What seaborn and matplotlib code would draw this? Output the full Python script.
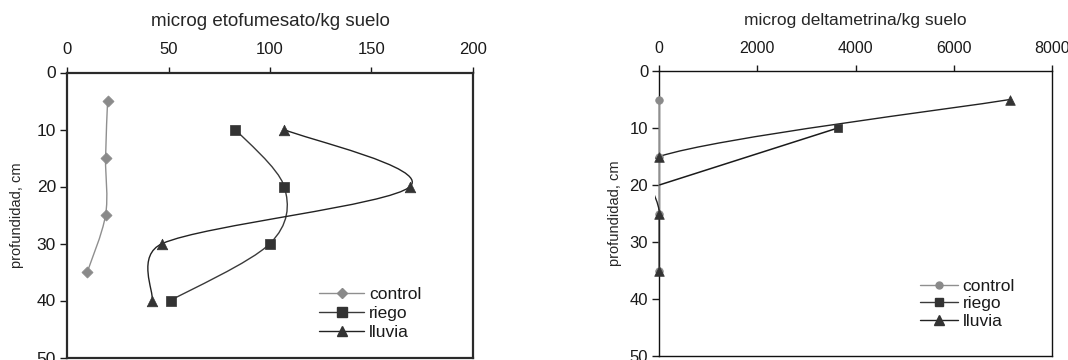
import numpy as np
import matplotlib
matplotlib.use("Agg")
import matplotlib.pyplot as plt
import seaborn as sns
import pandas as pd
from matplotlib.path import Path
from matplotlib.patches import PathPatch, Rectangle
from matplotlib.lines import Line2D

# ---------------- data ----------------
series_names = ["control", "riego", "lluvia"]

# left chart: etofumesato (microg/kg suelo) vs depth (cm)
etof_control_depth = [5, 15, 25, 35]
etof_control_val = [20, 19, 19, 10]
etof_riego_depth = [10, 20, 30, 40]
etof_riego_val = [83, 107, 100, 51]
etof_lluvia_depth = [10, 20, 30, 40]
etof_lluvia_val = [107, 169, 47, 42]

# right chart: deltametrina (microg/kg suelo) vs depth (cm)
delta_control_depth = [5, 15, 25, 35]
delta_control_val = [0, 0, 0, 0]
delta_riego_depth = [10, 20]
delta_riego_val = [3640, 0]
delta_lluvia_depth = [5, 15, 25, 35]
delta_lluvia_val = [7150, 0, 0, 0]

left_xticks = [0, 50, 100, 150, 200]
right_xticks = [0, 2000, 4000, 6000, 8000]
depth_ticks = [0, 10, 20, 30, 40, 50]

left_title = "microg etofumesato/kg suelo"
right_title = "microg deltametrina/kg suelo"
ylabel = "profundidad, cm"

# ---------------- style ----------------
sns.set_theme(style="white")
plt.rcParams["font.family"] = ["Liberation Sans", "DejaVu Sans"]
plt.rcParams["text.color"] = "#1a1a1a"

W, H = 1068, 360
fig = plt.figure(figsize=(W / 100, H / 100), dpi=100)
fig.patch.set_facecolor("white")


def smooth_path(ax, xs, ys, cap=0.5):
    """Excel-like smoothed line: cubic Bezier through the data points,
    computed in screen space, returned in data coordinates."""
    data = np.column_stack([xs, ys]).astype(float)
    pts = ax.transData.transform(data)
    n = len(pts)
    verts = [pts[0]]
    codes = [Path.MOVETO]

    def limit(arm, seg_len):
        L = np.hypot(*arm)
        m = cap * seg_len
        if L > m and L > 0:
            arm = arm * (m / L)
        return arm

    for i in range(n - 1):
        p0 = pts[i - 1] if i > 0 else pts[i]
        p1 = pts[i]
        p2 = pts[i + 1]
        p3 = pts[i + 2] if i + 2 < n else pts[i + 1]
        seg = np.hypot(*(p2 - p1))
        a1 = limit((p2 - p0) / 6.0, seg)
        a2 = limit((p3 - p1) / 6.0, seg)
        verts += [p1 + a1, p2 - a2, p2]
        codes += [Path.CURVE4] * 3
    verts = ax.transData.inverted().transform(np.array(verts))
    return Path(verts, codes)


def draw_series(ax, xs, ys, color, lw, marker, mcolor, msize, show_mask=None, z=3):
    patch = PathPatch(smooth_path(ax, xs, ys), facecolor="none", edgecolor=color,
                      lw=lw, zorder=z, transform=ax.transData)
    ax.add_patch(patch)
    clip = Rectangle((-0.012, -0.01), 1.024, 1.02, transform=ax.transAxes)
    patch.set_clip_path(clip)
    df = pd.DataFrame({"x": xs, "y": ys})
    if show_mask is not None:
        df = df[show_mask]
    sns.scatterplot(data=df, x="x", y="y", ax=ax, marker=marker, color=mcolor,
                    edgecolor=mcolor, linewidth=0.5, s=msize, zorder=z + 1,
                    clip_on=False, legend=False)


def setup_axes(ax, xlim, xticks):
    ax.set_xlim(*xlim)
    ax.set_ylim(50, 0)
    ax.set_xticks(xticks)
    ax.set_yticks(depth_ticks)


def style_axes(ax, title, title_size, title_pad, ylabel_pad, xtick_size, ytick_size,
               spine_lw, spine_color):
    ax.xaxis.tick_top()
    ax.xaxis.set_label_position("top")
    ax.set_xlabel(title, fontsize=title_size, labelpad=title_pad)
    ax.set_ylabel(ylabel, fontsize=10.5, labelpad=ylabel_pad)
    ax.tick_params(axis="x", direction="out", length=4, width=1, pad=7,
                   labelsize=xtick_size, colors="#1a1a1a", top=True, bottom=False)
    ax.tick_params(axis="y", direction="out", length=5, width=1, pad=3,
                   labelsize=ytick_size, colors="#1a1a1a", left=True)
    for s in ax.spines.values():
        s.set_linewidth(spine_lw)
        s.set_color(spine_color)
        s.set_zorder(2)
    ax.set_facecolor("white")
    ax.grid(False)


gray = "#8a8a8a"
dark = "#333333"

# ---------------- left chart ----------------
axL = fig.add_axes([67 / W, 1 - 357.5 / H, 406 / W, 285 / H])
setup_axes(axL, (0, 200), left_xticks)
draw_series(axL, etof_control_val, etof_control_depth, "#8f8f8f", 1.0, "D", gray, 32)
draw_series(axL, etof_riego_val, etof_riego_depth, "#3a3a3a", 1.0, "s", dark, 46)
draw_series(axL, etof_lluvia_val, etof_lluvia_depth, "#222222", 1.0, "^", dark, 58)
style_axes(axL, left_title, 13.5, 11.5, 9, 12, 12.5, 1.6, "#2a2a2a")

handlesL = [
    Line2D([], [], color="#8f8f8f", lw=1.0, marker="D", ms=5, mfc=gray, mec=gray),
    Line2D([], [], color="#3a3a3a", lw=1.0, marker="s", ms=6.5, mfc=dark, mec=dark),
    Line2D([], [], color="#222222", lw=1.0, marker="^", ms=7.5, mfc=dark, mec=dark),
]
axL.legend(handlesL, series_names, loc="upper left",
           bbox_to_anchor=(319 / W, 1 - 287 / H), bbox_transform=fig.transFigure,
           frameon=False, fontsize=12.5, handlelength=2.6, handletextpad=0.3,
           labelspacing=0.22, borderpad=0, borderaxespad=0)

# ---------------- right chart ----------------
axR = fig.add_axes([659.3 / W, 1 - 356 / H, 392.4 / W, 285 / H])
setup_axes(axR, (0, 8000), right_xticks)
draw_series(axR, delta_control_val, delta_control_depth, "#8f8f8f", 1.2, "o", gray, 30)
riego_mask = np.array(delta_riego_val) > 0
draw_series(axR, delta_riego_val, delta_riego_depth, "#1a1a1a", 1.1, "s", dark, 36,
            show_mask=riego_mask)
draw_series(axR, delta_lluvia_val, delta_lluvia_depth, "#222222", 1.0, "^", dark, 48)
style_axes(axR, right_title, 12.5, 11.5, 5.5, 11.5, 12, 1.0, "#111111")

handlesR = [
    Line2D([], [], color="#8f8f8f", lw=1.0, marker="o", ms=5, mfc=gray, mec=gray),
    Line2D([], [], color="#3a3a3a", lw=1.0, marker="s", ms=6, mfc=dark, mec=dark),
    Line2D([], [], color="#222222", lw=1.0, marker="^", ms=7, mfc=dark, mec=dark),
]
axR.legend(handlesR, series_names, loc="upper left",
           bbox_to_anchor=(920 / W, 1 - 279 / H), bbox_transform=fig.transFigure,
           frameon=False, fontsize=12.5, handlelength=2.2, handletextpad=0.25,
           labelspacing=0.12, borderpad=0, borderaxespad=0)

fig.savefig("out.png", dpi=100, facecolor="white")
